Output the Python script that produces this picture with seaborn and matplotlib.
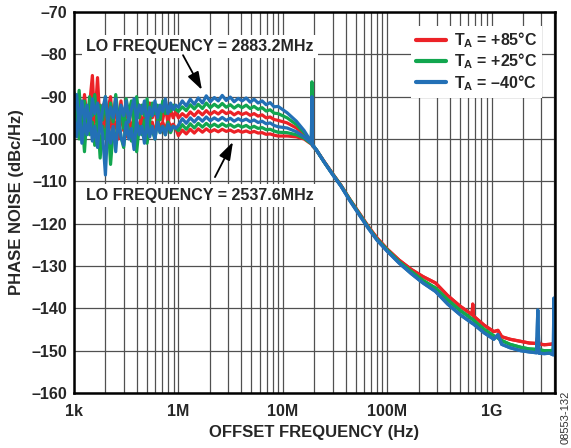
import pandas as pd
import matplotlib
matplotlib.use("Agg")
import matplotlib.pyplot as plt
import seaborn as sns
from matplotlib.ticker import FixedLocator, LogLocator, NullFormatter

# offset frequencies (Hz) up to the 19 MHz spur, where the LO curves still differ
FREQ_NEAR = [1.00e5, 1.06e5, 1.12e5, 1.19e5, 1.26e5, 1.33e5, 1.41e5, 1.50e5, 1.58e5, 1.68e5,
             1.78e5, 1.88e5, 2.00e5, 2.11e5, 2.24e5, 2.37e5, 2.51e5, 2.66e5, 2.82e5, 2.99e5,
             3.16e5, 3.35e5, 3.55e5, 3.76e5, 3.98e5, 4.22e5, 4.47e5, 4.73e5, 5.01e5, 5.31e5,
             5.62e5, 5.96e5, 6.31e5, 6.68e5, 7.08e5, 7.50e5, 7.94e5, 8.41e5, 8.91e5, 9.44e5,
             1.00e6, 1.09e6, 1.19e6, 1.30e6, 1.42e6, 1.55e6, 1.70e6, 1.85e6, 2.02e6, 2.21e6,
             2.41e6, 2.63e6, 2.87e6, 3.14e6, 3.42e6, 3.74e6, 4.08e6, 4.46e6, 4.87e6, 5.31e6,
             5.80e6, 6.34e6, 6.92e6, 7.56e6, 8.25e6, 9.01e6,
             1.10e7, 1.35e7, 1.60e7, 1.80e7, 1.88e7, 1.90e7, 1.92e7]
# offset frequencies (Hz) above the spur, where all LO curves merge
FREQ_FAR = [2.10e7, 2.50e7, 3.00e7, 3.60e7, 4.40e7, 5.40e7, 6.60e7, 8.00e7,
            1.00e8, 1.30e8, 1.70e8, 2.20e8, 2.90e8, 3.80e8, 5.00e8, 6.50e8, 6.60e8, 6.70e8, 8.50e8,
            1.05e9, 1.15e9, 1.25e9, 1.50e9, 1.90e9, 2.30e9, 2.70e9, 2.77e9, 2.84e9, 3.20e9,
            3.60e9, 3.90e9, 3.95e9, 4.00e9]

TEMPS = [r"$\mathbf{T_A}$ = +85°C", r"$\mathbf{T_A}$ = +25°C", r"$\mathbf{T_A}$ = –40°C"]
COLORS = ["#EC2227", "#12A64F", "#2370B6"]

# phase noise (dBc/Hz), LO = 2883.2 MHz side of the band
PN_85_HI = [-93, -97, -91, -96.5, -89.5, -95, -92, -85, -96, -85.5, -97, -92, -99, -93, -90, -97.5,
            -92.5, -96, -91, -98, -93, -95.5, -91.5, -97, -94, -92, -98.5, -93.5, -96, -91.5,
            -95, -92.5, -97, -93, -95.5, -92, -96.5, -93, -95, -93.5,
            -95.0, -94.0, -94.8, -93.6, -94.5, -93.4, -94.3, -93.3, -94.2, -93.5, -94.1, -93.3, -94.0,
            -93.6, -94.3, -93.7, -94.2, -93.8, -94.4, -94.0, -94.6, -94.3, -95.0, -94.8, -95.4, -95.6,
            -96.2, -97.4, -99.0, -100.4, -100.9, -95.0, -101.4]
PN_25_HI = [-89, -95, -88.5, -97, -91, -98.5, -90, -94.5, -89.5, -97, -92, -95.5, -90, -98, -91.5, -96,
            -89.5, -95, -92.5, -97.5, -90.5, -94, -91, -96.5, -90, -95, -92, -94.5, -90.5, -96,
            -91.5, -94, -92, -95.5, -91, -94, -92.5, -93.5, -92, -93,
            -93.5, -92.4, -93.3, -91.9, -92.9, -91.8, -92.8, -91.5, -92.6, -91.8, -92.5, -91.6, -92.5,
            -91.9, -92.7, -92.0, -92.6, -92.0, -92.8, -92.3, -93.0, -92.6, -93.4, -93.1, -93.9, -94.0,
            -95.0, -96.6, -98.5, -100.2, -100.8, -86.5, -101.3]
PN_M40_HI = [-93, -89.5, -97, -91, -95.5, -92, -98, -90.5, -94, -91.5, -97, -93, -90, -96, -92.5, -95,
             -90.5, -97, -92, -94.5, -91, -96, -93, -90.5, -95.5, -92, -94, -91, -96.5, -92.5,
             -94.5, -91, -95, -92, -93.5, -90.5, -94, -91.5, -93, -92,
             -92.5, -91.0, -92.2, -90.6, -91.8, -90.3, -91.5, -89.8, -91.2, -90.2, -91.0, -89.7, -90.9,
             -90.1, -91.2, -90.4, -91.0, -90.3, -91.3, -90.6, -91.5, -91.0, -91.9, -91.4, -92.4, -92.3,
             -93.8, -95.8, -98.0, -100.0, -100.7, -90.0, -101.2]

# phase noise (dBc/Hz), LO = 2537.6 MHz side of the band
PN_85_LO = [-97, -93, -99.5, -94.5, -100, -95, -98, -93.5, -100.5, -96, -94, -99, -95, -101, -94.5, -98,
            -96, -100, -94, -97.5, -99.5, -95, -98, -94.5, -99, -96.5, -95, -98.5, -94.5, -97.5,
            -96, -99, -95, -97.5, -96, -98, -95.5, -97, -96.5, -97.5,
            -99.2, -97.9, -98.8, -97.7, -98.6, -97.6, -98.4, -97.6, -98.3, -97.8, -98.3, -97.7, -98.2,
            -97.9, -98.4, -98.0, -98.4, -98.1, -98.5, -98.2, -98.6, -98.5, -98.9, -98.8, -99.1, -99.3,
            -99.3, -99.5, -100.0, -100.9, -101.2, -96.0, -101.6]
PN_25_LO = [-97, -92, -100, -95, -103, -94, -99, -96, -101.5, -94.5, -104.5, -97, -100, -95, -106, -98,
            -101, -94.5, -99.5, -102, -95.5, -98, -100.5, -95, -103, -97, -99, -95.5, -101, -96.5,
            -98, -100, -95.5, -98.5, -97, -99, -96, -98.5, -97, -97.5,
            -98.0, -96.6, -97.7, -96.4, -97.4, -96.3, -97.2, -96.3, -97.1, -96.5, -97.1, -96.4, -97.0,
            -96.6, -97.2, -96.7, -97.2, -96.8, -97.4, -97.0, -97.5, -97.3, -97.8, -97.7, -98.1, -98.4,
            -98.5, -99.0, -99.8, -100.8, -101.1, -89.0, -101.5]
PN_M40_LO = [-95, -99.5, -93, -101, -96, -99, -94, -100.5, -97, -102, -95.5, -99, -108.5, -96, -101, -97,
             -103, -95, -99.5, -101.5, -96, -100, -97.5, -102.5, -95.5, -99, -97, -101, -96, -99.5,
             -97, -100, -96, -98.5, -97, -99, -96.5, -98, -97, -97.5,
             -96.8, -95.2, -96.3, -95.0, -96.0, -94.9, -95.8, -94.8, -95.7, -95.0, -95.6, -94.9, -95.6,
             -95.1, -95.8, -95.2, -95.7, -95.3, -95.9, -95.5, -96.1, -95.8, -96.4, -96.2, -96.8, -97.1,
             -97.4, -98.3, -99.5, -100.6, -101.0, -92.0, -101.5]

# phase noise (dBc/Hz) above the spur, one per temperature
PN_85_FAR = [-102.6, -105.4, -108.2, -110.9, -114.3, -117.5, -120.7, -123.4,
             -126.0, -128.6, -130.8, -132.5, -134.0, -137.0, -139.5, -141.5, -139.0, -141.8, -144.0,
             -145.5, -145.2, -146.7, -147.3, -147.8, -148.2, -148.3, -146.5, -148.4, -148.6,
             -148.5, -148.4, -147.5, -148.5]
PN_25_FAR = [-102.6, -105.5, -108.3, -111.0, -114.4, -117.7, -120.9, -123.7,
             -126.2, -129.0, -131.3, -133.4, -135.2, -138.0, -140.5, -142.5, -142.6, -142.8, -145.0,
             -146.5, -147.0, -147.6, -148.5, -149.2, -149.6, -149.7, -147.5, -149.8, -150.0,
             -150.0, -149.9, -146.5, -149.8]
PN_M40_FAR = [-102.6, -105.5, -108.4, -111.1, -114.6, -117.9, -121.1, -123.9,
              -126.5, -129.3, -131.8, -134.0, -136.0, -139.0, -141.5, -143.5, -143.6, -143.7, -145.8,
              -147.3, -146.2, -148.5, -149.3, -150.0, -150.3, -150.5, -140.4, -150.6, -150.7,
              -150.6, -151.0, -137.6, -150.8]

X_TICKS = [1e5, 1e6, 1e7, 1e8, 1e9]
X_LABELS = ["1k", "1M", "10M", "100M", "1G"]
Y_TICKS = [-160, -150, -140, -130, -120, -110, -100, -90, -80, -70]

curves = [
    (TEMPS[0], PN_85_HI, PN_85_LO, PN_85_FAR),
    (TEMPS[1], PN_25_HI, PN_25_LO, PN_25_FAR),
    (TEMPS[2], PN_M40_HI, PN_M40_LO, PN_M40_FAR),
]
frames = []
for temp, hi, lo, far in curves:
    for tag, near in (("hi", hi), ("lo", lo)):
        frames.append(pd.DataFrame({"freq": FREQ_NEAR + FREQ_FAR,
                                    "pn": near + far,
                                    "temp": temp,
                                    "curve": temp + tag}))
df = pd.concat(frames, ignore_index=True)

sns.set_style("white")
plt.rcParams["font.family"] = ["Liberation Sans", "DejaVu Sans"]
plt.rcParams["font.weight"] = "bold"
plt.rcParams["mathtext.fontset"] = "custom"
plt.rcParams["mathtext.rm"] = "Liberation Sans:bold"
plt.rcParams["mathtext.bf"] = "Liberation Sans:bold"

fig = plt.figure(figsize=(5.71, 4.48), dpi=100)
ax = fig.add_axes([74 / 571, 55 / 448, 481 / 571, 381 / 448])
ax.set_xscale("log")

sns.lineplot(data=df, x="freq", y="pn", hue="temp", units="curve", estimator=None,
             hue_order=TEMPS, palette=dict(zip(TEMPS, COLORS)), linewidth=2.3,
             sort=False, ax=ax)

ax.set_xlim(1e5, 4.05e9)
ax.set_ylim(-160, -70)
ax.xaxis.set_major_locator(FixedLocator(X_TICKS))
ax.set_xticklabels(X_LABELS)
ax.xaxis.set_minor_locator(LogLocator(base=10, subs=range(2, 10), numticks=30))
ax.xaxis.set_minor_formatter(NullFormatter())
ax.set_yticks(Y_TICKS)
ax.set_yticklabels([str(v).replace("-", "–") for v in Y_TICKS])
ax.tick_params(which="both", length=0, labelsize=11.5)
ax.tick_params(axis="x", pad=8)
ax.tick_params(axis="y", pad=5)

ax.grid(True, which="both", axis="x", color="#505050", linewidth=0.9)
ax.grid(True, which="major", axis="y", color="#505050", linewidth=0.9)
ax.set_axisbelow(True)
for sp in ax.spines.values():
    sp.set_color("black")
    sp.set_linewidth(1.8)

ax.set_xlabel("OFFSET FREQUENCY (Hz)", fontsize=12, fontweight="bold", labelpad=4)
ax.set_ylabel("PHASE NOISE (dBc/Hz)", fontsize=12, fontweight="bold", labelpad=5)

sns.move_legend(ax, "upper right", bbox_to_anchor=(0.99, 0.985), title=None, frameon=True,
                fontsize=11.5, handlelength=1.9, handletextpad=0.5, labelspacing=0.1,
                borderpad=0.3, fancybox=False)
leg = ax.get_legend()
leg.get_frame().set_edgecolor("none")
leg.get_frame().set_facecolor("white")
leg.get_frame().set_alpha(1)
for line in leg.get_lines():
    line.set_linewidth(3)

box = dict(facecolor="white", edgecolor="none", pad=3)
ax.text(1.61e6, -79.2, "LO FREQUENCY = 2883.2MHz", ha="center", va="baseline",
        fontsize=11.5, fontweight="bold", bbox=box, zorder=4)
ax.text(1.59e6, -114.4, "LO FREQUENCY = 2537.6MHz", ha="center", va="baseline",
        fontsize=11.5, fontweight="bold", bbox=box, zorder=4)
arrow = dict(arrowstyle="-|>,head_length=0.6,head_width=0.2", color="black", lw=1.3,
             mutation_scale=18, shrinkA=0, shrinkB=0)
ax.annotate("", xy=(1.68e6, -88.4), xytext=(1.107e6, -80.2), arrowprops=arrow, zorder=6)
ax.annotate("", xy=(3.33e6, -100.7), xytext=(2.24e6, -109.0), arrowprops=arrow, zorder=6)

fig.text(566 / 571, 31 / 448, "08553-132", rotation=90, fontsize=8, fontweight="normal",
         ha="center", va="center", color="#333333")

fig.savefig("out.png", dpi=100)
